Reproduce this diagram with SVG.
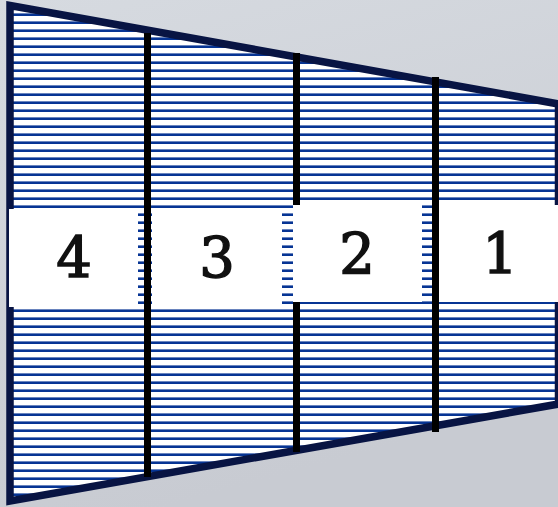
<svg xmlns="http://www.w3.org/2000/svg" width="558" height="507" viewBox="0 0 558 507">
<defs>
<linearGradient id="bg" x1="0" y1="0" x2="0.3" y2="1">
<stop offset="0" stop-color="#d6dae0"/>
<stop offset="1" stop-color="#c8cbd2"/>
</linearGradient>
<pattern id="hatch" patternUnits="userSpaceOnUse" x="0" y="0" width="560" height="8">
<rect width="560" height="8" fill="#ffffff"/>
<rect y="5.4" width="560" height="2.6" fill="#063494"/>
</pattern>
</defs>
<style>
.frame{fill:url(#hatch);stroke:#081443;stroke-width:7.5;stroke-linejoin:miter}
.div{stroke:#000;stroke-width:7}
.box{fill:#fff}
.num{font-family:"DejaVu Serif","Liberation Serif",serif;font-size:56px;fill:#111;stroke:#111;stroke-width:1.5;text-anchor:middle}
</style>
<rect width="558" height="507" fill="url(#bg)"/>
<g id="trapezoid">
<polygon class="frame" points="10,5.5 558.5,104 558.5,404 10,501"/>
</g>
<g id="connectors">
<line class="div" x1="147.5" y1="33" x2="147.5" y2="477"/>
<line class="div" x1="296.5" y1="53" x2="296.5" y2="452"/>
<line class="div" x1="435.5" y1="77" x2="435.5" y2="432"/>
</g>
<g id="node4">
<rect class="box" x="9" y="209" width="129" height="98"/>
<text class="num" x="74" y="277">4</text>
</g>
<g id="node3">
<rect class="box" x="152" y="208" width="130" height="101"/>
<text class="num" x="217" y="277">3</text>
</g>
<g id="node2">
<rect class="box" x="293" y="205" width="129" height="97"/>
<text class="num" x="357" y="273">2</text>
</g>
<g id="node1">
<rect class="box" x="439" y="205" width="122" height="97"/>
<text class="num" x="500" y="273">1</text>
</g>
</svg>
